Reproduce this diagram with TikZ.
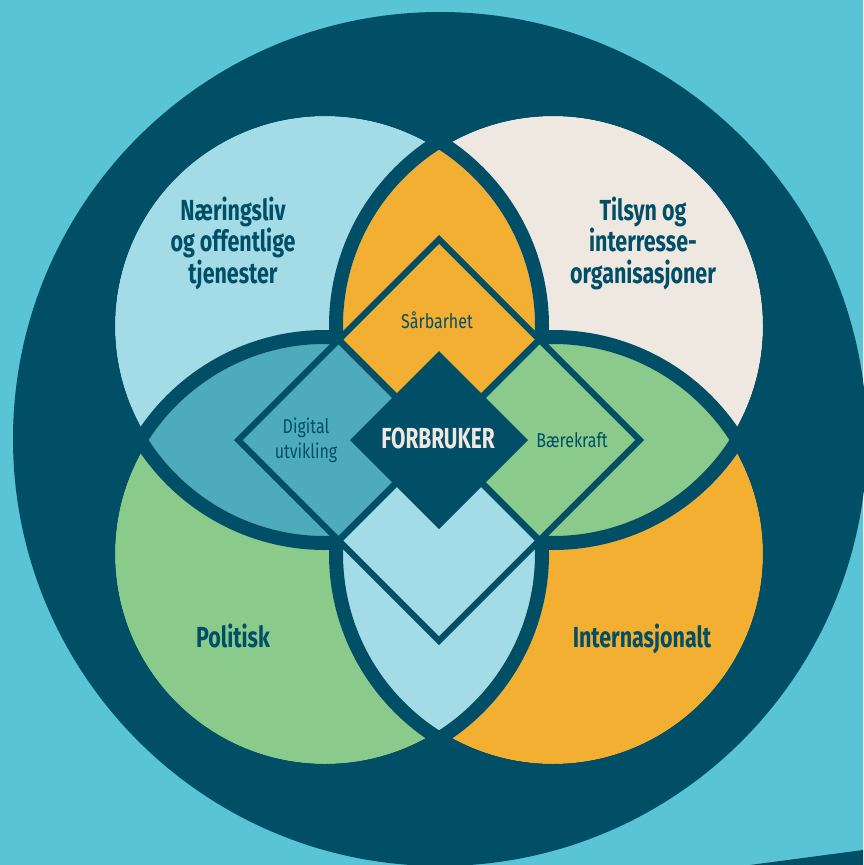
\documentclass[tikz,border=0pt]{standalone}
\usepackage{fontspec}
\usetikzlibrary{calc}
\setmainfont{Fira Sans}
\newfontfamily\bigfont{Fira Sans}[FakeStretch=0.74]
\newfontfamily\centrefont{Fira Sans}[FakeStretch=0.72]
\newfontfamily\smallfont{Fira Sans}[FakeStretch=0.80]
\definecolor{bgc}{HTML}{59C4D6}
\definecolor{dk}{HTML}{014E67}
\definecolor{lblue}{HTML}{A3DCE6}
\definecolor{beige}{HTML}{EEE8E1}
\definecolor{grn}{HTML}{8ACA8A}
\definecolor{orng}{HTML}{F3AF31}
\definecolor{tealc}{HTML}{4EABBB}
\tikzset{
  biglabel/.style={inner sep=0pt, anchor=base, text=dk, font=\bigfont\bfseries\fontsize{29}{32}\selectfont},
  smalllabel/.style={inner sep=0pt, anchor=base, text=dk, font=\smallfont\fontsize{20}{24}\selectfont},
  centrelabel/.style={inner sep=0pt, anchor=base, text=beige, font=\centrefont\bfseries\fontsize{29}{32}\selectfont},
  ring/.style={draw=dk, line width=14pt}
}
\begin{document}
\begin{tikzpicture}[x=1pt,y=-1pt]
\useasboundingbox (0,0) rectangle (863,865);
\fill[bgc] (0,0) rectangle (863,865);
\fill[dk] (440,439) circle (427pt);
\fill[dk] (750,865) -- (863,850) -- (863,865) -- cycle;
% centres
\coordinate (C) at (439,440);
\coordinate (TL) at (325,326);
\coordinate (TR) at (553,326);
\coordinate (BL) at (325,554);
\coordinate (BR) at (553,554);
% circle fills
\fill[lblue] (TL) circle (210pt);
\fill[beige] (TR) circle (210pt);
\fill[grn] (BL) circle (210pt);
\fill[orng] (BR) circle (210pt);
% lenses
\begin{scope}\clip (TL) circle (210pt); \fill[orng] (TR) circle (210pt);\end{scope}
\begin{scope}\clip (TL) circle (210pt); \fill[tealc] (BL) circle (210pt);\end{scope}
\begin{scope}\clip (TR) circle (210pt); \fill[grn] (BR) circle (210pt);\end{scope}
\begin{scope}\clip (BL) circle (210pt); \fill[lblue] (BR) circle (210pt);\end{scope}
% rings
\draw[ring] (TL) circle (217pt);
\draw[ring] (TR) circle (217pt);
\draw[ring] (BL) circle (217pt);
\draw[ring] (BR) circle (217pt);
% diamond
\fill[dk] ($(C)+(0,-205)$) -- ($(C)+(205,0)$) -- ($(C)+(0,205)$) -- ($(C)+(-205,0)$) -- cycle;
\foreach \dx/\dy/\col in {0/-100.5/orng, -100.5/0/tealc, 100.5/0/grn, 0/100.5/lblue}{
  \fill[\col] ($(C)+(\dx,\dy)+(0,-95.5)$) -- ($(C)+(\dx,\dy)+(95.5,0)$) -- ($(C)+(\dx,\dy)+(0,95.5)$) -- ($(C)+(\dx,\dy)+(-95.5,0)$) -- cycle;
}
\fill[dk] ($(C)+(0,-89)$) -- ($(C)+(89,0)$) -- ($(C)+(0,89)$) -- ($(C)+(-89,0)$) -- cycle;
% labels
\node[biglabel] (n1) at (233,220) {Næringsliv};
\node[biglabel] (n2) at (233,251) {og offentlige};
\node[biglabel] (n3) at (233,283) {tjenester};
\node[biglabel] (t1) at (643,220) {Tilsyn og};
\node[biglabel] (t2) at (643,251) {interresse-};
\node[biglabel] (t3) at (643,283) {organisasjoner};
\node[biglabel] (pol) at (233,647) {Politisk};
\node[biglabel] (int) at (642,647) {Internasjonalt};
\node[smalllabel] (sar) at (437,328) {Sårbarhet};
\node[smalllabel] (dig1) at (306,433) {Digital};
\node[smalllabel] (dig2) at (306,458) {utvikling};
\node[smalllabel] (baer) at (572,447) {Bærekraft};
\node[centrelabel] (forb) at (438,448) {FORBRUKER};
\end{tikzpicture}
\end{document}
